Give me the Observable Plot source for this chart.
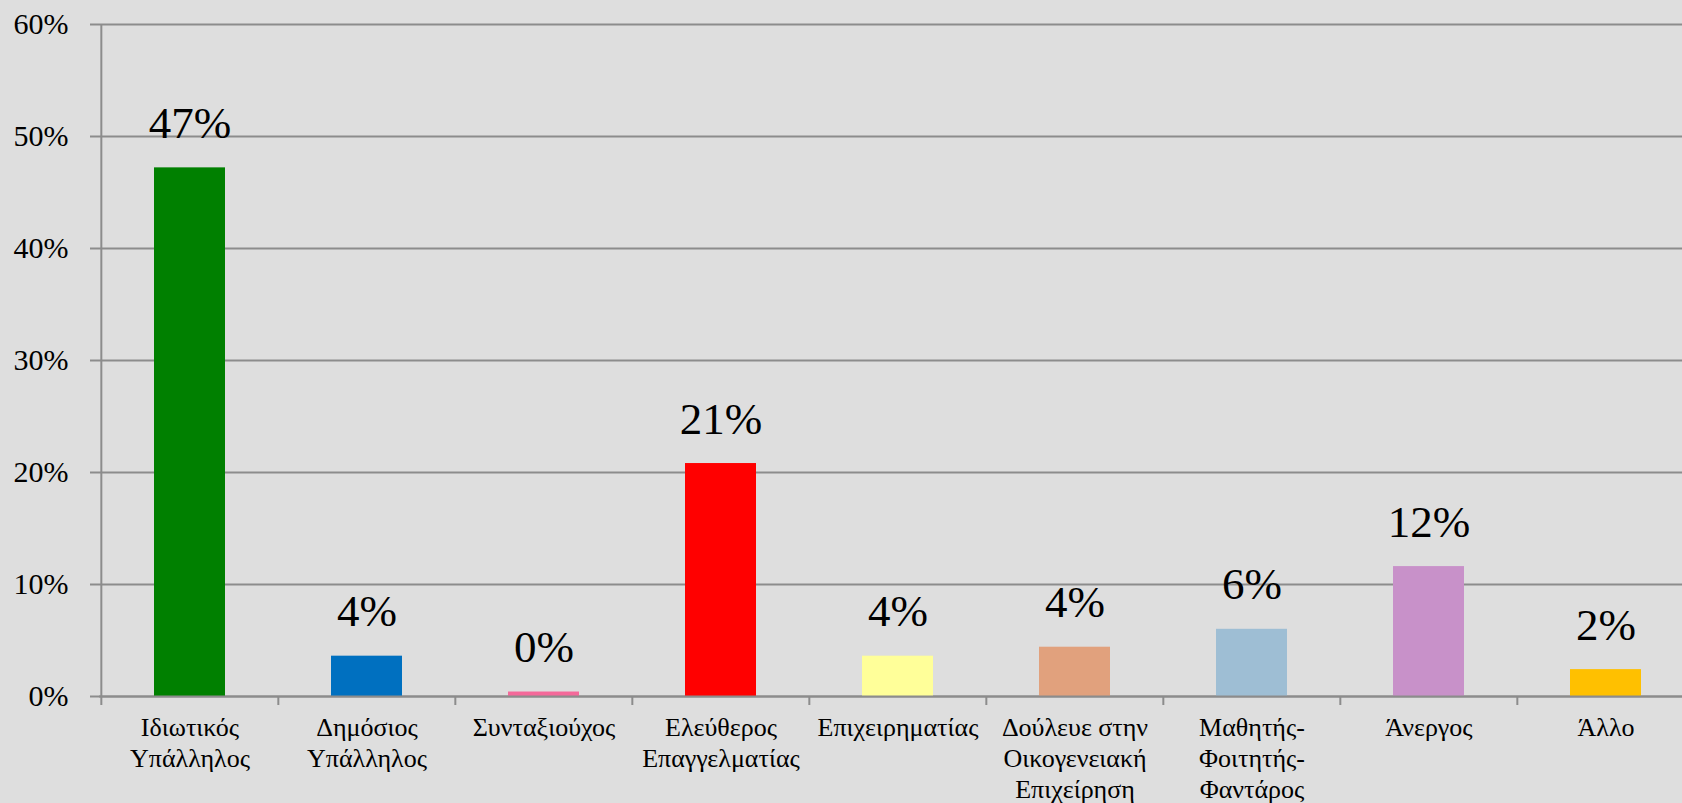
<!DOCTYPE html>
<html>
<head>
<meta charset="utf-8">
<script src="https://cdn.jsdelivr.net/npm/d3@7"></script>
<script src="https://cdn.jsdelivr.net/npm/@observablehq/plot@0.6"></script>
<style>
  html, body { margin: 0; padding: 0; background: #dedede; overflow: hidden; font-family: 'Liberation Serif', serif; }
</style>
</head>
<body>
<div id="chart"></div>
<script>
const categories = [
  "Ιδιωτικός\nΥπάλληλος",
  "Δημόσιος\nΥπάλληλος",
  "Συνταξιούχος",
  "Ελεύθερος\nΕπαγγελματίας",
  "Επιχειρηματίας",
  "Δούλευε στην\nΟικογενειακή\nΕπιχείρηση",
  "Μαθητής-\nΦοιτητής-\nΦαντάρος",
  "Άνεργος",
  "Άλλο"
];
const values = [47.2, 3.6, 0.4, 20.8, 3.6, 4.4, 6.0, 11.6, 2.4];
const colors = ["#008000", "#0070c0", "#f4699a", "#ff0000", "#ffff99", "#e1a17d", "#9ebed4", "#c891c9", "#ffc000"];
const yTicks = [0, 10, 20, 30, 40, 50, 60];

const data = categories.map((c, i) => ({cat: c, value: values[i], color: colors[i]}));

const W = 1682, H = 803;
const xRange = [99, 1695];
const step = (xRange[1] - xRange[0]) / categories.length;
const gray = "#8c8c8c";
const serif = "Liberation Serif";

const chart = Plot.plot({
  width: W,
  height: H,
  marginTop: 24,
  marginBottom: 107,
  marginLeft: 99,
  marginRight: 0,
  style: {background: "#dedede", color: "#000", overflow: "hidden"},
  x: {type: "band", domain: categories, range: xRange, padding: 0},
  y: {domain: [0, 60]},
  color: {type: "identity"},
  marks: [
    Plot.gridY(yTicks, {stroke: gray, strokeOpacity: 1, strokeWidth: 2}),
    Plot.barY(data, {x: "cat", y: "value", fill: "color", insetLeft: 53, insetRight: 53}),
    Plot.ruleY([0], {stroke: gray, strokeWidth: 2}),
    Plot.ruleX([categories[0]], {dx: -step / 2, stroke: gray, strokeWidth: 2}),
    Plot.axisY(yTicks, {tickFormat: d => d + "%", tickSize: 9, tickPadding: 22, fontSize: 30, fontFamily: serif, stroke: gray, strokeWidth: 2, label: null}),
    Plot.axisX({tickSize: 9, tickFormat: null, text: null, dx: -step / 2, stroke: gray, strokeWidth: 2, label: null}),
    Plot.axisX({tickSize: 0, tickPadding: 18, lineAnchor: "top", fontSize: 26, fontFamily: serif, lineHeight: 1.19, label: null}),
    Plot.text(data, {x: "cat", y: "value", text: d => Math.round(d.value) + "%", lineAnchor: "bottom", dy: -30, fontSize: 45, fontFamily: serif, fill: "#000"})
  ]
});
chart.style.setProperty("font-family", "'Liberation Serif', serif");
document.getElementById("chart").appendChild(chart);
</script>
</body>
</html>
